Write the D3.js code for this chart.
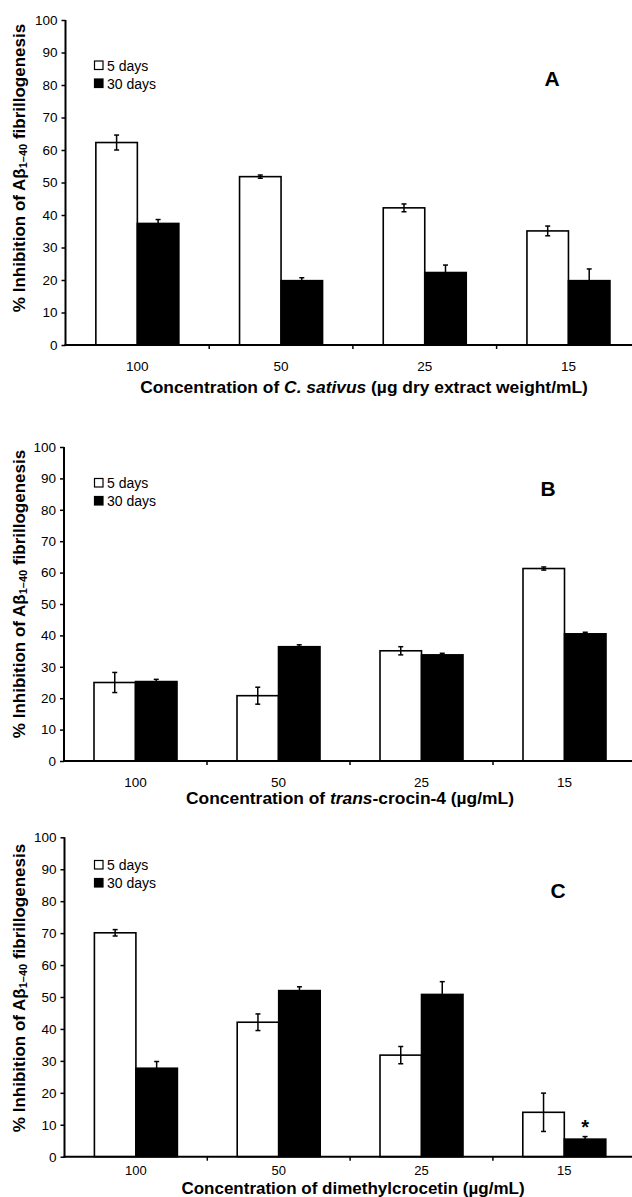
<!DOCTYPE html>
<html>
<head>
<meta charset="utf-8">
<script src="https://cdn.jsdelivr.net/npm/d3@7"></script>
<style>
  html, body { margin: 0; padding: 0; background: #fff; }
  svg { display: block; font-family: "Liberation Sans", Arial, sans-serif; }
</style>
</head>
<body>
<svg id="chart" width="632" height="1197"></svg>
<script>
// ---------- data ----------
const categories = ["100", "50", "25", "15"];
const seriesNames = ["5 days", "30 days"];
const yTicks = [0, 10, 20, 30, 40, 50, 60, 70, 80, 90, 100];

const A_5days = [62.3, 51.8, 42.2, 35.1];
const A_5days_err = [2.3, 0.5, 1.2, 1.5];
const A_30days = [37.4, 19.8, 22.3, 19.8];
const A_30days_err = [1.2, 0.9, 2.3, 3.6];

const B_5days = [25.0, 20.8, 35.1, 61.3];
const B_5days_err = [3.2, 2.7, 1.3, 0.5];
const B_30days = [25.3, 36.4, 33.8, 40.5];
const B_30days_err = [0.7, 0.6, 0.5, 0.5];

const C_5days = [70.1, 42.1, 31.8, 13.9];
const C_5days_err = [1.0, 2.6, 2.7, 6.0];
const C_30days = [27.7, 52.0, 50.8, 5.5];
const C_30days_err = [2.1, 1.2, 4.0, 0.8];

const panelLetters = ["A", "B", "C"];
const C_significant = [false, false, false, true]; // "*" over 30 days bar

// ---------- drawing ----------
const svg = d3.select("#chart");
const FONT = "'Liberation Sans', Arial, sans-serif";

function drawPanel(cfg) {
  const g = svg.append("g");
  const x = d3.scaleBand().domain(categories).range([cfg.x0, cfg.x0 + 4 * cfg.catW]).padding(0);
  const y = d3.scaleLinear().domain([0, 100]).range([cfg.y0, cfg.y100]);
  const half = cfg.barW;
  const xs = d3.scaleBand().domain(seriesNames)
    .range([x.bandwidth() / 2 - half, x.bandwidth() / 2 + half]).padding(0);

  const series = [
    { name: "5 days", vals: cfg.s5, errs: cfg.e5, fill: "#fff" },
    { name: "30 days", vals: cfg.s30, errs: cfg.e30, fill: "#000" }
  ];

  // bars
  series.forEach(s => {
    g.selectAll(null).data(categories).enter().append("rect")
      .attr("x", c => x(c) + xs(s.name))
      .attr("y", (c, i) => y(s.vals[i]))
      .attr("width", xs.bandwidth())
      .attr("height", (c, i) => y(0) - y(s.vals[i]))
      .attr("fill", s.fill)
      .attr("stroke", "#000")
      .attr("stroke-width", 1.6);
  });

  // error bars
  series.forEach(s => {
    const eg = g.selectAll(null).data(categories).enter().append("g")
      .attr("stroke", "#000")
      .attr("stroke-width", 1.5);
    const cx = c => x(c) + xs(s.name) + xs.bandwidth() / 2;
    eg.append("line")
      .attr("x1", cx).attr("x2", cx)
      .attr("y1", (c, i) => y(s.vals[i] + s.errs[i]))
      .attr("y2", (c, i) => y(s.vals[i] - s.errs[i]));
    eg.append("line")
      .attr("x1", c => cx(c) - 2.5).attr("x2", c => cx(c) + 2.5)
      .attr("y1", (c, i) => y(s.vals[i] + s.errs[i]))
      .attr("y2", (c, i) => y(s.vals[i] + s.errs[i]));
    eg.append("line")
      .attr("x1", c => cx(c) - 2.5).attr("x2", c => cx(c) + 2.5)
      .attr("y1", (c, i) => y(s.vals[i] - s.errs[i]))
      .attr("y2", (c, i) => y(s.vals[i] - s.errs[i]));
  });

  // significance marker
  if (cfg.sig) {
    g.selectAll(null).data(categories.filter((c, i) => cfg.sig[i])).enter().append("text")
      .attr("x", c => x(c) + xs("30 days") + xs.bandwidth() / 2)
      .attr("y", c => y(cfg.s30[categories.indexOf(c)] + cfg.e30[categories.indexOf(c)]) - 3)
      .attr("text-anchor", "middle")
      .attr("font-family", FONT).attr("font-weight", "bold").attr("font-size", 20)
      .text("*");
  }

  // y axis
  const yAxis = d3.axisLeft(y).tickValues(yTicks).tickSize(4).tickSizeOuter(0).tickPadding(4);
  const ya = g.append("g").attr("transform", `translate(${cfg.x0},0)`).call(yAxis);
  ya.select(".domain").attr("stroke-width", 2).attr("d", `M0,${cfg.y0 + 1}V${cfg.y100}`);
  ya.selectAll(".tick line").attr("stroke-width", 1.5);
  ya.selectAll("text").attr("font-family", FONT).attr("font-size", 13.5).attr("fill", "#000");

  // x axis
  const xAxis = d3.axisBottom(x).tickSize(0).tickPadding(cfg.catPad);
  const xa = g.append("g").attr("transform", `translate(0,${cfg.y0})`).call(xAxis);
  xa.select(".domain").attr("stroke-width", 2).attr("d", `M${cfg.x0 - 1},0H632`);
  xa.selectAll("text").attr("font-family", FONT).attr("font-size", cfg.catSize).attr("fill", "#000");
  // category boundary ticks
  xa.selectAll(null).data(categories.slice(1)).enter().append("line")
    .attr("x1", c => x(c)).attr("x2", c => x(c))
    .attr("y1", 0).attr("y2", 4).attr("stroke", "#000").attr("stroke-width", 1.5);

  // legend
  const lg = g.append("g");
  seriesNames.forEach((n, i) => {
    const ly = cfg.legY + i * 18;
    lg.append("rect").attr("x", 94.5).attr("y", ly - 4.5).attr("width", 8.5).attr("height", 8.5)
      .attr("fill", i === 0 ? "#fff" : "#000").attr("stroke", "#000").attr("stroke-width", 1.2);
    lg.append("text").attr("x", 107).attr("y", ly + 5)
      .attr("font-family", FONT).attr("font-size", 14).text(n);
  });

  // panel letter
  g.append("text").attr("x", cfg.letX).attr("y", cfg.letY).attr("text-anchor", "middle")
    .attr("font-family", FONT).attr("font-weight", "bold").attr("font-size", 21).text(cfg.letter);

  // y title
  const yt = g.append("text")
    .attr("transform", `translate(25,${cfg.yTitleC}) rotate(-90)`)
    .attr("text-anchor", "middle").attr("font-family", FONT).attr("font-weight", "bold")
    .attr("font-size", 17);
  yt.append("tspan").text("% Inhibition of Aβ");
  yt.append("tspan").attr("font-size", 11).attr("dy", 2).text("1–40");
  yt.append("tspan").attr("dy", -2).text(" fibrillogenesis");

  // x title
  const xt = g.append("text").attr("x", cfg.xTitleX).attr("y", cfg.xTitleY)
    .attr("text-anchor", "middle").attr("font-family", FONT).attr("font-weight", "bold")
    .attr("font-size", cfg.xTitleSize);
  cfg.xTitle.forEach(p => {
    const t = xt.append("tspan").text(p.t);
    if (p.i) t.attr("font-style", "italic");
  });
}

drawPanel({
  letter: panelLetters[0], s5: A_5days, e5: A_5days_err, s30: A_30days, e30: A_30days_err,
  x0: 65.5, catW: 143.7, barW: 41.5, y0: 345, y100: 20, legY: 65.5, letX: 552, letY: 85.5,
  yTitleC: 168, xTitleX: 364, xTitleY: 393, xTitleSize: 17.4, catPad: 16, catSize: 13.5,
  xTitle: [{ t: "Concentration of " }, { t: "C. sativus", i: true }, { t: " (µg dry extract weight/mL)" }]
});
drawPanel({
  letter: panelLetters[1], s5: B_5days, e5: B_5days_err, s30: B_30days, e30: B_30days_err,
  x0: 64, catW: 143, barW: 41.5, y0: 761, y100: 447, legY: 483, letX: 548, letY: 495.5,
  yTitleC: 594, xTitleX: 350, xTitleY: 804, xTitleSize: 17.4, catPad: 16, catSize: 13.5,
  xTitle: [{ t: "Concentration of " }, { t: "trans", i: true }, { t: "-crocin-4 (µg/mL)" }]
});
drawPanel({
  letter: panelLetters[2], s5: C_5days, e5: C_5days_err, s30: C_30days, e30: C_30days_err,
  x0: 64.5, catW: 142.8, barW: 41.5, y0: 1156.7, y100: 837.3, legY: 865, letX: 558, letY: 897.5,
  yTitleC: 988, xTitleX: 353, xTitleY: 1193.5, xTitleSize: 17, catPad: 9, catSize: 13,
  sig: C_significant,
  xTitle: [{ t: "Concentration of dimethylcrocetin (µg/mL)" }]
});
</script>
</body>
</html>
